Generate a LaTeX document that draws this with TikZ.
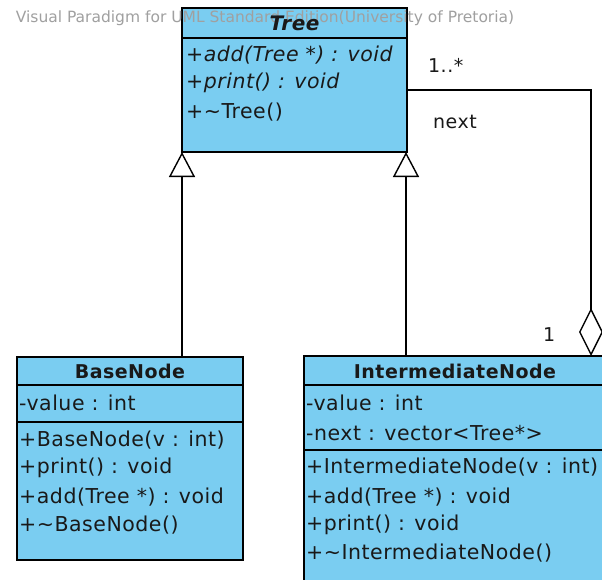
\documentclass[tikz,border=0pt]{standalone}
\usepackage{fontspec}
\setmainfont{DejaVu Sans}[LetterSpace=2.5]
\newfontfamily\wmfont{DejaVu Sans}
\usetikzlibrary{arrows.meta}
\definecolor{clsfill}{RGB}{122,205,241}
\definecolor{wmgray}{RGB}{160,160,160}
\begin{document}
\begin{tikzpicture}[x=1pt,y=-1pt,
  classbox/.style={draw=black,line width=1.4pt,fill=clsfill,rectangle,inner sep=0pt,outer sep=0pt,anchor=north west},
  divider/.style={line width=1.4pt},
  member/.style={anchor=west,inner sep=0pt,font=\fontsize{20.5}{24}\selectfont,text=black!90},
  imember/.style={member,font=\fontsize{20.5}{24}\selectfont\itshape},
  title/.style={anchor=center,inner sep=0pt,font=\fontsize{19}{22}\selectfont\bfseries,text=black!90},
  conn/.style={line width=1.4pt},
  gen/.style={conn,-{Triangle[open,length=25pt,width=26pt,line width=1.4pt]}},
  label/.style={inner sep=0pt,font=\fontsize{19}{22}\selectfont,text=black!90}
]
\useasboundingbox (0,0) rectangle (602,579);
\fill[white] (0,0) rectangle (602,579);
\begin{scope}
\clip (0,0) rectangle (602,579);
% Tree
\node[classbox,minimum width=225pt,minimum height=144pt] (tree) at (182,8) {};
\draw[divider] (182,38) -- (407,38);
\node[anchor=center,inner sep=0pt,font=\wmfont\fontsize{15.5}{18}\selectfont,text=wmgray] (wm) at (265,18) {Visual Paradigm for UML Standard Edition(University of Pretoria)};
\node[title,font=\fontsize{20}{22}\selectfont\bfseries\itshape] (treet) at (294.5,23) {Tree};
\node[imember] (tm1) at (186,55) {+add(Tree *) : void};
\node[imember] (tm2) at (186,83) {+print() : void};
\node[member] (tm3) at (186,112) {+\textasciitilde Tree()};
% BaseNode
\node[classbox,minimum width=226pt,minimum height=203pt] (base) at (17,357) {};
\draw[divider] (17,385) -- (243,385);
\draw[divider] (17,422) -- (243,422);
\node[title] (baset) at (130,371) {BaseNode};
\node[member] (ba1) at (19,403) {-value : int};
\node[member] (bm1) at (19,440) {+BaseNode(v : int)};
\node[member] (bm2) at (19,468) {+print() : void};
\node[member] (bm3) at (19,497) {+add(Tree *) : void};
\node[member] (bm4) at (19,525) {+\textasciitilde BaseNode()};
% IntermediateNode
\node[classbox,minimum width=302pt,minimum height=240pt] (inter) at (304,356) {};
\draw[divider] (304,385) -- (606,385);
\draw[divider] (304,450) -- (606,450);
\node[title] (intert) at (455,371) {IntermediateNode};
\node[member] (ia1) at (306,403) {-value : int};
\node[member] (ia2) at (306,433) {-next : vector<Tree*>};
\node[member] (im1) at (306,467) {+IntermediateNode(v : int)};
\node[member] (im2) at (306,497) {+add(Tree *) : void};
\node[member] (im3) at (306,525) {+print() : void};
\node[member] (im4) at (306,553) {+\textasciitilde IntermediateNode()};
% connectors
\coordinate (bt) at (182,357);
\coordinate (tb1) at (182,152);
\coordinate (it) at (406,356);
\coordinate (tb2) at (406,152);
\draw[gen] (bt) -- (tb1);
\draw[gen] (it) -- (tb2);
\coordinate (tr) at (407,90);
\coordinate (corner) at (591,90);
\coordinate (dtip) at (591,356);
\draw[conn,-{Diamond[open,length=48pt,width=24pt,line width=1.4pt]}] (tr) -- (corner) -- (dtip);
\node[label,anchor=west] (m1) at (428,65) {1..*};
\node[label,anchor=west] (rn) at (433,122) {next};
\node[label,anchor=west] (m2) at (543,335) {1};
\end{scope}
\end{tikzpicture}
\end{document}
